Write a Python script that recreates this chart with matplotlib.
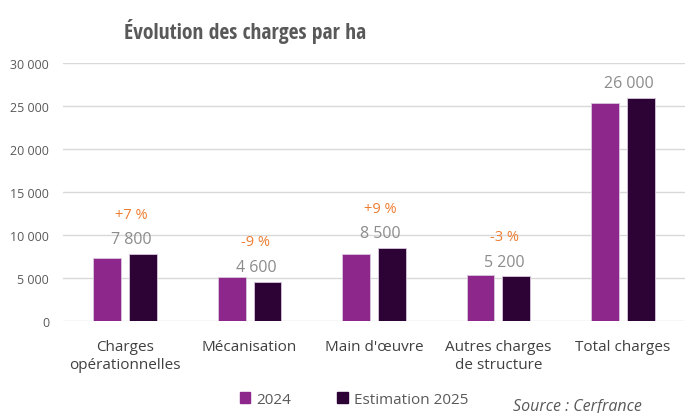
import numpy as np
import matplotlib.pyplot as plt
from matplotlib.patches import Patch

#------------------------------------
# Data
#------------------------------------

categories = ["Charges\nopérationnelles", "Mécanisation", "Main d'œuvre",
              "Autres charges\nde structure", "Total charges"]
val_2024 = [7300, 5100, 7800, 5350, 25400]
val_2025 = [7800, 4600, 8500, 5200, 26000]
val_labels = ["7 800", "4 600", "8 500", "5 200", "26 000"]
pct_labels = ["+7 %", "-9 %", "+9 %", "-3 %", ""]
yticks = [0, 5000, 10000, 15000, 20000, 25000, 30000]

c2024 = "#8E278C"
c2025 = "#2D0235"
grey = "#595959"

plt.rcParams['font.family'] = ['Open Sans', 'DejaVu Sans']

fig = plt.figure(figsize=(6.85, 4.14), dpi=100)
ax = fig.add_axes([0.092, 0.222, 0.908, 0.623])

x = np.arange(len(categories))
w = 0.224
off = 0.144

ax.bar(x - off, val_2024, w, color=c2024, edgecolor="#d9c7dc", linewidth=0.6, zorder=3)
ax.bar(x + off, val_2025, w, color=c2025, edgecolor="#d9c7dc", linewidth=0.6, zorder=3)

for i in range(len(categories)):
    ax.text(x[i] + 0.05, val_2025[i] + 1700, val_labels[i], ha="center", va="center",
            fontsize=11.5, color="#8c8c8c")
    if pct_labels[i]:
        ax.text(x[i] + 0.05, val_2025[i] + 4600, pct_labels[i], ha="center", va="center",
                fontsize=10.5, color="#ED7D31")

ax.set_xlim(-0.5, len(categories) - 0.5)
ax.set_ylim(0, 30000)
ax.set_yticks(yticks)
ax.set_yticklabels([f"{t:,}".replace(",", " ") for t in yticks], fontsize=9, color=grey)
ax.set_xticks(x)
ax.set_xticklabels(categories, fontsize=11, color="#404040", linespacing=1.25)
ax.tick_params(axis="x", length=0, pad=13)
ax.tick_params(axis="y", length=0, pad=10)
ax.grid(axis="y", color="#d9d9d9", linewidth=1, zorder=0)
for s in ax.spines.values():
    s.set_visible(False)

fig.text(0.358, 0.925, "Évolution des charges par ha", ha="center", va="center",
         fontsize=15.5, fontweight="bold", color=grey, family=['Open Sans Condensed', 'Open Sans'])

handles = [Patch(color=c2024), Patch(color=c2025)]
fig.legend(handles, ["2024", "Estimation 2025"], loc="center left", bbox_to_anchor=(0.33, 0.033),
           ncol=2, frameon=False, fontsize=11, handlelength=0.7, handleheight=0.7,
           handletextpad=0.4, columnspacing=3.0, labelcolor=grey)
fig.text(0.749, 0.018, "Source : Cerfrance", ha="left", va="center", fontsize=11.5,
         style="italic", color=grey)

fig.savefig("out.png", dpi=100)
